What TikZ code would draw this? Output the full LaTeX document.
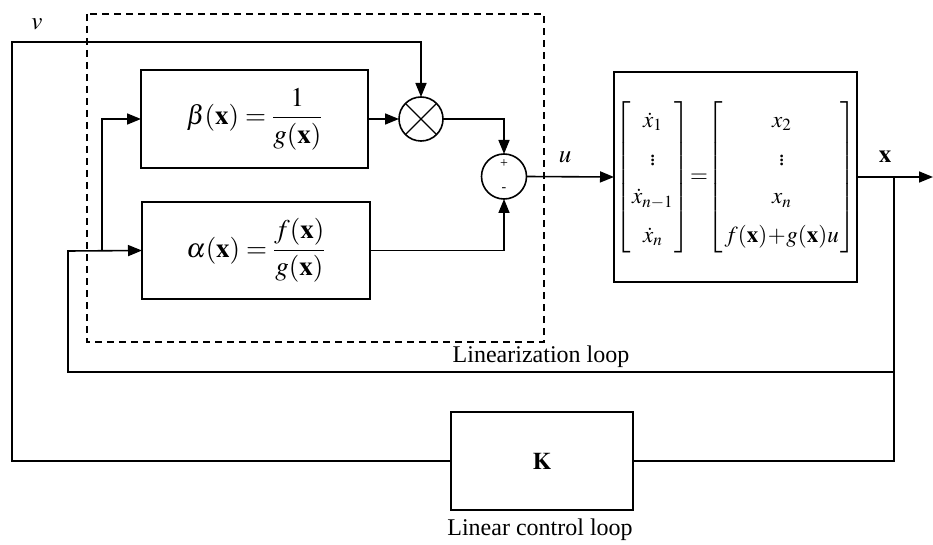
\documentclass[tikz,border=0pt]{standalone}
\usepackage{amsmath}
\usepackage{mathptmx}
\usepackage[no-math]{fontspec}
\setmainfont{Liberation Serif}
\usetikzlibrary{arrows.meta}
\tikzset{
  wire/.style={line width=1.6pt},
  arr/.style={wire, -{Triangle[length=14pt,width=11pt]}},
  blk/.style={draw, line width=1.6pt, outer sep=0pt, inner sep=0pt, font=\fontsize{27}{32}\selectfont},
  junc/.style={draw, circle, line width=1.6pt, outer sep=0pt, inner sep=0pt},
  lbl/.style={font=\fontsize{25}{28}\selectfont, inner sep=0pt},
  looptext/.style={font=\fontsize{24}{28}\selectfont, inner sep=0pt}
}
\begin{document}
\begin{tikzpicture}[x=1pt,y=-1pt]
\useasboundingbox (0,0) rectangle (933,545);

% linearization boundary
\draw[line width=1.4pt, dash pattern=on 7pt off 5pt] (87,14) rectangle (544,342);

% blocks
\node[blk, minimum width=227pt, minimum height=98pt] (beta) at (254.5,119)
  {$\beta(\mathbf{x})=\dfrac{1}{g(\mathbf{x})}$};
\node[blk, minimum width=228pt, minimum height=97pt] (alpha) at (256,250.5)
  {$\alpha(\mathbf{x})=\dfrac{f(\mathbf{x})}{g(\mathbf{x})}$};
\node[blk, text width=243pt, align=center, minimum height=210pt, font=\fontsize{23}{27}\selectfont] (plant) at (735.5,177)
  {\renewcommand{\arraystretch}{1.42}\setlength{\arraycolsep}{1.5pt}%
   $\left[\begin{array}{c}\dot{x}_1\\ \vdots\\ \dot{x}_{n-1}\\ \dot{x}_n\end{array}\right]
    \!\!=\!\!\left[\begin{array}{c}x_2\\ \vdots\\ x_n\\ f(\mathbf{x})\!+\!g(\mathbf{x})u\end{array}\right]$};
\node[blk, minimum width=182pt, minimum height=98pt, font=\fontsize{24}{28}\selectfont] (K) at (542,461)
  {$\mathbf{K}$};

% multiplier and summing junction
\node[junc, minimum size=44pt] (ot) at (421,119) {};
\draw[line width=1.4pt] (ot.north west) -- (ot.south east)
                        (ot.north east) -- (ot.south west);
\node[junc, minimum size=45pt] (sum) at (504,176.5) {};
\node[font=\fontsize{14}{14}\selectfont, inner sep=0pt] (plus) at (504,164) {+};
\node[font=\fontsize{14}{14}\selectfont, inner sep=0pt] (minus) at (504,190) {-};

% junction points
\coordinate (vcorner) at (12,42);
\coordinate (feed) at (68,251);
\coordinate (split) at (102,251);
\coordinate (tap) at (894,177);
\coordinate (tapL) at (894,372);
\coordinate (xout) at (933,177);

% connectors
\draw[arr] (K.west) -| (vcorner) -| (ot.north);
\draw[arr] (beta.east) -- (ot.west);
\draw[arr] (ot.east) -| (sum.north);
\draw[arr] (alpha.east) -| (sum.south);
\draw[arr] (sum.east) -- (plant.west);
\draw[arr] (plant.east) -- (xout);
\draw[wire] (tap) |- (K.east);
\draw[arr] (tapL) -| (feed) -- (alpha.west);
\draw[arr] (split) |- (beta.west);

% signal labels
\node[lbl] (vlab) at (37,24) {$v$};
\node[lbl] (ulab) at (565,157) {$u$};
\node[lbl] (xlab) at (885,157) {$\mathbf{x}$};
\node[looptext] (lin) at (541,357) {Linearization loop};
\node[looptext] (lcl) at (540,530) {Linear control loop};
\end{tikzpicture}
\end{document}
